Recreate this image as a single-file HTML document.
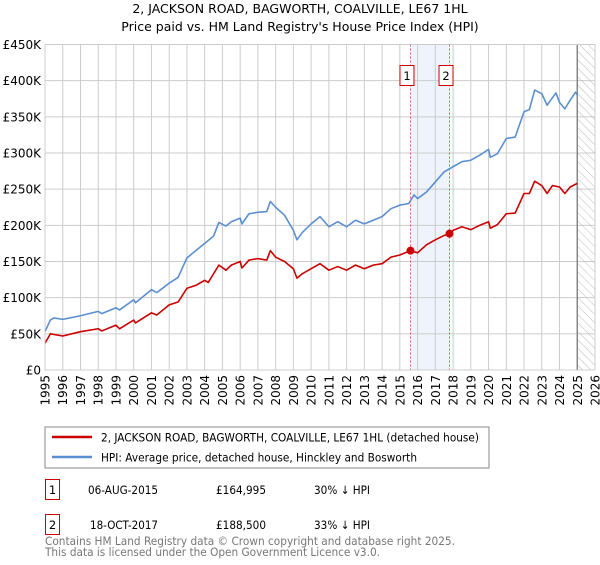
<!DOCTYPE html>
<html><head><meta charset="utf-8"><style>
body{margin:0;background:#fff;font-family:"Liberation Sans","DejaVu Sans",sans-serif;}
svg text{font-family:"DejaVu Sans","Liberation Sans",sans-serif;}
</style></head><body>
<svg id="c" width="600" height="560" xmlns="http://www.w3.org/2000/svg">
<defs><pattern id="hatch" width="6" height="6" patternUnits="userSpaceOnUse" patternTransform="rotate(-45)"><line x1="0" y1="0" x2="0" y2="6" stroke="#bbb" stroke-width="1"/></pattern></defs>
<text x="300" y="13" text-anchor="middle" font-size="12.5">2, JACKSON ROAD, BAGWORTH, COALVILLE, LE67 1HL</text>
<text x="300" y="31" text-anchor="middle" font-size="12.5">Price paid vs. HM Land Registry's House Price Index (HPI)</text>
<g id="grid"></g><g id="marks"></g><g id="axes"></g>
<rect x="45" y="427" width="444" height="41" fill="#fff" stroke="#888"/>
<line x1="52" y1="437" x2="92" y2="437" stroke="#cc0000" stroke-width="2.5"/>
<text x="101" y="441.5" font-size="11.5" textLength="378" lengthAdjust="spacingAndGlyphs">2, JACKSON ROAD, BAGWORTH, COALVILLE, LE67 1HL (detached house)</text>
<line x1="52" y1="457" x2="92" y2="457" stroke="#5b8fd0" stroke-width="2.5"/>
<text x="101" y="461.5" font-size="11.5" textLength="316" lengthAdjust="spacingAndGlyphs">HPI: Average price, detached house, Hinckley and Bosworth</text>
<rect x="45.5" y="479.5" width="14" height="20" fill="#fff" stroke="#cc0000"/>
<text x="52.5" y="494" text-anchor="middle" font-size="11.5">1</text>
<text x="88" y="494" font-size="11.5" textLength="70" lengthAdjust="spacingAndGlyphs">06-AUG-2015</text>
<text x="216" y="494" font-size="11.5" textLength="50" lengthAdjust="spacingAndGlyphs">£164,995</text>
<text x="314" y="494" font-size="11.5" textLength="56" lengthAdjust="spacingAndGlyphs">30% ↓ HPI</text>
<rect x="45.5" y="514.5" width="14" height="20" fill="#fff" stroke="#cc0000"/>
<text x="52.5" y="529" text-anchor="middle" font-size="11.5">2</text>
<text x="90" y="529" font-size="11.5" textLength="68" lengthAdjust="spacingAndGlyphs">18-OCT-2017</text>
<text x="216" y="529" font-size="11.5" textLength="50" lengthAdjust="spacingAndGlyphs">£188,500</text>
<text x="314" y="529" font-size="11.5" textLength="56" lengthAdjust="spacingAndGlyphs">33% ↓ HPI</text>
<text x="45" y="545" font-size="11.5" fill="#777" textLength="410" lengthAdjust="spacingAndGlyphs">Contains HM Land Registry data © Crown copyright and database right 2025.</text>
<text x="45" y="556" font-size="11.5" fill="#777" textLength="335" lengthAdjust="spacingAndGlyphs">This data is licensed under the Open Government Licence v3.0.</text>
</svg>
<script>
const hpiYears=[1995,1995.3,1995.5,1996,1997,1998,1998.2,1999,1999.2,2000,2000.1,2001,2001.3,2002,2002.5,2003,2003.5,2004,2004.5,2004.8,2005.2,2005.5,2006,2006.1,2006.5,2007,2007.5,2007.7,2008,2008.5,2009,2009.2,2009.5,2010,2010.5,2011,2011.5,2012,2012.5,2013,2013.5,2014,2014.5,2015,2015.5,2015.8,2016,2016.5,2017,2017.5,2018,2018.5,2019,2019.5,2020,2020.1,2020.5,2021,2021.5,2022,2022.3,2022.6,2023,2023.3,2023.5,2023.8,2024,2024.3,2024.6,2024.9,2025];
const hpiValues=[53,69,72,70,75,81,78,86,83,97,93,111,107,120,128,155,165,175,185,204,199,205,210,202,216,218,219,233,225,214,193,180,190,202,212,198,205,198,207,202,207,212,223,228,230,242,237,246,260,274,281,288,290,297,305,294,299,320,322,357,360,387,382,366,373,383,370,361,373,384,380];
const priceYears=[1995,1995.3,1996,1997,1998,1998.2,1999,1999.2,2000,2000.1,2001,2001.3,2002,2002.5,2003,2003.5,2004,2004.2,2004.8,2005.2,2005.5,2006,2006.1,2006.5,2007,2007.5,2007.7,2008,2008.5,2009,2009.2,2009.5,2010,2010.5,2011,2011.5,2012,2012.5,2013,2013.5,2014,2014.5,2015,2015.6,2016,2016.5,2017,2017.5,2017.8,2018,2018.5,2019,2019.5,2020,2020.1,2020.5,2021,2021.5,2022,2022.3,2022.6,2023,2023.3,2023.6,2024,2024.3,2024.6,2025];
const priceValues=[37,50,47,53,57,54,62,57,69,65,79,76,90,94,113,117,124,121,145,138,145,150,141,152,154,152,165,156,150,140,127,133,140,147,138,143,138,145,140,145,147,156,159,165,162,173,180,186,188.5,193,198,194,200,205,196,201,216,217,244,244,261,255,244,255,253,244,253,258];
const saleYears=[2015.6,2017.8];
const saleValues=[164.995,188.5];
const saleLabels=["1","2"];
const yTicks=[0,50,100,150,200,250,300,350,400,450];
const yTickLabels=["£0","£50K","£100K","£150K","£200K","£250K","£300K","£350K","£400K","£450K"];
const xTicks=[1995,1996,1997,1998,1999,2000,2001,2002,2003,2004,2005,2006,2007,2008,2009,2010,2011,2012,2013,2014,2015,2016,2017,2018,2019,2020,2021,2022,2023,2024,2025,2026];
const L=45,R=595,T=44.5,B=370;
const xs=y=>L+(y-1995)*(R-L)/31;
const ys=v=>B-v*(B-T)/450;
const NS="http://www.w3.org/2000/svg";
function mk(p,t,a){const e=document.createElementNS(NS,t);for(const k in a)e.setAttribute(k,a[k]);p.appendChild(e);return e;}
const g=document.getElementById('grid'),m=document.getElementById('marks'),ax=document.getElementById('axes');
const sp=mk(g,'rect',{x:xs(saleYears[0]),y:T,width:xs(saleYears[1])-xs(saleYears[0]),height:B-T,fill:'#eef3fc'});


yTicks.forEach((v,i)=>{
 const l=mk(g,'line',{x1:L,x2:R,y1:ys(v),y2:ys(v),stroke:'#ccc'});
 
 
 const t=mk(ax,'text',{x:L-4,y:ys(v)+4.5,'text-anchor':'end','font-size':12});
 t.textContent=yTickLabels[i];
 
 
});
xTicks.forEach(y=>{
 const l=mk(g,'line',{x1:xs(y),x2:xs(y),y1:T,y2:B,stroke:'#ccc'});
 
 
 const t=mk(ax,'text',{x:0,y:0,'text-anchor':'end','font-size':12,transform:`translate(${xs(y)+4.5},${B+5}) rotate(-90)`});
 t.textContent=y;
 
 
});
const h=mk(g,'rect',{x:xs(2025),y:T,width:R-xs(2025),height:B-T,fill:'url(#hatch)'});


const gl=mk(g,'line',{x1:xs(2025),x2:xs(2025),y1:T,y2:B,stroke:'#888','stroke-width':1.5});


saleYears.forEach((y,i)=>{
 const l=mk(g,'line',{x1:xs(y),x2:xs(y),y1:T,y2:B,stroke:'#e05555','stroke-dasharray':'2,2'});
 
 
});
const line=(X,V,c,n)=>{const p=mk(m,'polyline',{points:X.map((y,i)=>xs(y)+','+ys(V[i])).join(' '),fill:'none',stroke:c,'stroke-width':1.6,'stroke-linejoin':'round'});
 
 };
line(hpiYears,hpiValues,'#5b8fd0','hpi-line');
line(priceYears,priceValues,'#cc0000','price-line');
saleYears.forEach((y,i)=>{
 const c=mk(m,'circle',{cx:xs(y),cy:ys(saleValues[i]),r:4,fill:'#cc0000'});
 
 
 const r=mk(m,'rect',{x:xs(y)-10.5,y:65.5,width:14,height:20,fill:'#fff',stroke:'#cc0000'});
 
 
 const t=mk(m,'text',{x:xs(y)-3.5,y:80,'text-anchor':'middle','font-size':11.5});
 t.textContent=saleLabels[i];
 
 
});
const fr=mk(ax,'rect',{x:L,y:T,width:R-L,height:B-T,fill:'none',stroke:'#ccc'});


</script>
</body></html>
